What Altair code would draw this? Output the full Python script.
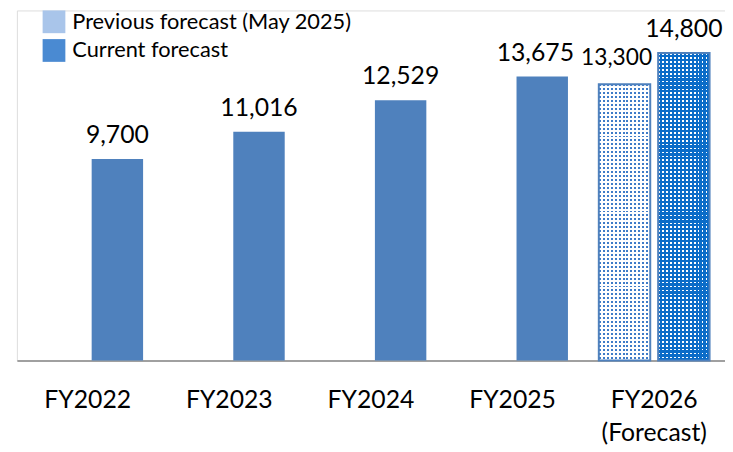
import altair as alt
import pandas as pd

# ---- data ----
categories = ["FY2022", "FY2023", "FY2024", "FY2025", "FY2026|(Forecast)"]
actual_values = [9700, 11016, 12529, 13675]
previous_forecast_value = 13300
current_forecast_value = 14800
series_names = ["Actual", "Previous forecast (May 2025)", "Current forecast"]
legend_colors = ["#4F81BD", "#A9C5EA", "#4A8AD2"]

rows = []
for cat, v in zip(categories[:4], actual_values):
    rows.append({"cat": cat, "slot": "b", "series": series_names[0], "value": v})
rows.append({"cat": categories[4], "slot": "a", "series": series_names[1], "value": previous_forecast_value})
rows.append({"cat": categories[4], "slot": "b", "series": series_names[2], "value": current_forecast_value})
df = pd.DataFrame(rows)

FONT = "Lato"
CLEAR = "rgba(255,255,255,0)"


def stripes(n, frac, color, vertical):
    """Hard-edged stripe gradient: a clear band of `frac` then `color`, repeated n times."""
    stops = []
    for k in range(n):
        a = k / n
        b = (k + frac) / n
        c = (k + 1) / n
        stops += [
            alt.GradientStop(offset=a, color=CLEAR),
            alt.GradientStop(offset=b, color=CLEAR),
            alt.GradientStop(offset=b, color=color),
            alt.GradientStop(offset=c, color=color),
        ]
    if vertical:  # stripes stacked top-to-bottom
        return alt.Gradient(gradient="linear", x1=0, y1=0, x2=0, y2=1, stops=stops)
    return alt.Gradient(gradient="linear", x1=0, y1=0, x2=1, y2=0, stops=stops)


x_enc = alt.X(
    "cat:N",
    sort=categories,
    scale=alt.Scale(paddingInner=0, paddingOuter=0),
    axis=alt.Axis(
        title=None,
        ticks=False,
        labelAngle=0,
        labelFont=FONT,
        labelFontSize=25,
        labelColor="#000000",
        labelPadding=28,
        labelBaseline="top",
        labelLineHeight=33,
        labelExpr="split(datum.label, '|')",
        domainColor="#868686",
        domainWidth=1.5,
        grid=False,
    ),
)
xoff_enc = alt.XOffset(
    "slot:N",
    scale=alt.Scale(domain=["a", "b"], paddingInner=0.1333, paddingOuter=0.26),
)
y_enc = alt.Y("value:Q", scale=alt.Scale(domain=[0, 16850]), axis=None)
color_enc = alt.Color(
    "series:N",
    scale=alt.Scale(domain=series_names, range=legend_colors),
    legend=alt.Legend(
        title=None,
        values=series_names[1:],
        orient="none",
        legendX=26,
        legendY=0,
        padding=0,
        symbolType="square",
        symbolSize=529,
        symbolStrokeWidth=0,
        symbolOpacity=1,
        rowPadding=6,
        labelOffset=7,
        labelFont=FONT,
        labelFontSize=22,
        labelColor="#000000",
        labelLimit=400,
    ),
)

base = alt.Chart(df)
enc = dict(x=x_enc, xOffset=xoff_enc, y=y_enc)

actual_bars = base.transform_filter("datum.series == 'Actual'").mark_bar().encode(color=color_enc, **enc)

prev = base.transform_filter("datum.slot == 'a'")
cur = base.transform_filter("datum.series == 'Current forecast'")

# previous forecast: blue dots on white
prev_base = prev.mark_bar(fill="#3F7CC8").encode(**enc)
prev_rows = prev.mark_bar(fill=stripes(70, 0.5, "#FFFFFF", True)).encode(**enc)
prev_cols = prev.mark_bar(fill=stripes(13, 0.5, "#FFFFFF", False)).encode(**enc)
# current forecast: white dots on blue
cur_base = cur.mark_bar(fill="#FFFFFF").encode(**enc)
cur_rows = cur.mark_bar(fill=stripes(78, 0.45, "#0B6CC8", True)).encode(**enc)
cur_cols = cur.mark_bar(fill=stripes(13, 0.45, "#0B6CC8", False)).encode(**enc)
forecast_border = base.transform_filter("datum.series != 'Actual'").mark_bar(
    fillOpacity=0, stroke="#4F81BD", strokeWidth=2
).encode(**enc)

txt = alt.Text("value:Q", format=",")
labels_main = base.transform_filter("datum.slot == 'b' && datum.value != 13675").mark_text(
    font=FONT, fontSize=25, color="#000000", baseline="alphabetic", dy=-16
).encode(text=txt, **enc)
labels_fy25 = base.transform_filter("datum.value == 13675").mark_text(
    font=FONT, fontSize=25, color="#000000", baseline="alphabetic", dy=-16, dx=-7
).encode(text=txt, **enc)
labels_prev = prev.mark_text(
    font=FONT, fontSize=23, color="#000000", baseline="alphabetic", dy=-19, dx=-8
).encode(text=txt, **enc)

chart = (
    alt.layer(
        actual_bars,
        prev_base, prev_rows, prev_cols,
        cur_base, cur_rows, cur_cols,
        forecast_border,
        labels_main, labels_fy25, labels_prev,
    )
    .properties(width=716, height=354, padding={"left": 9, "top": 0, "right": 0, "bottom": 0})
    .configure_view(stroke=None)
    .configure(background="#ffffff")
)

chart.save("out.html", embed_options={"renderer": "svg", "actions": False})
